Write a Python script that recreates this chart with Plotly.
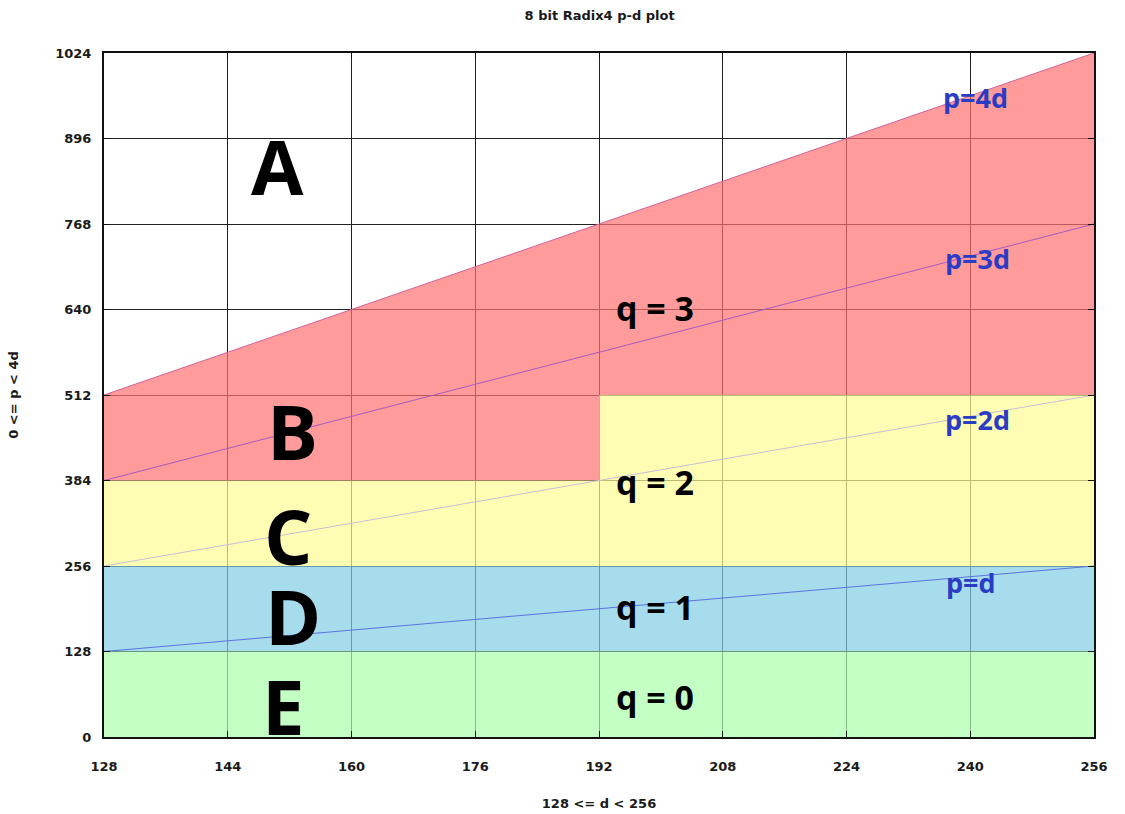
import plotly.graph_objects as go

# Axis ranges and ticks
d_ticks = [128, 144, 160, 176, 192, 208, 224, 240, 256]
p_ticks = [0, 128, 256, 384, 512, 640, 768, 896, 1024]

# Quotient-digit regions (polygon vertices in d, p)
q3_d = [128, 128, 256, 256, 192, 192, 128]
q3_p = [384, 512, 1024, 512, 512, 384, 384]
q2_d = [128, 128, 192, 192, 256, 256, 128]
q2_p = [256, 384, 384, 512, 512, 256, 256]
q1_d = [128, 128, 256, 256, 128]
q1_p = [128, 256, 256, 128, 128]
q0_d = [128, 128, 256, 256, 128]
q0_p = [0, 128, 128, 0, 0]

# Reference lines p = k*d (endpoints)
line_d = [128, 256]
line_p4 = [512, 1024]
line_p3 = [384, 768]
line_p2 = [256, 512]
line_p1 = [128, 256]

# Labels
zone_names = ["A", "B", "C", "D", "E"]
zone_d = [150.4, 152.4, 151.8, 152.4, 151.2]
zone_p = [856, 460, 302, 183, 48]

q_names = ["q = 3", "q = 2", "q = 1", "q = 0"]
q_d = [199.2, 199.2, 199.2, 199.2]
q_p = [642, 382, 195, 60]

line_names = ["p=4d", "p=3d", "p=2d", "p=d"]
line_lab_d = [240.7, 240.9, 240.9, 240.1]
line_lab_p = [958, 717, 476, 232]

fig = go.Figure()

regions = [
    (q3_d, q3_p, "rgba(255,112,112,0.7)"),
    (q2_d, q2_p, "rgba(255,252,148,0.7)"),
    (q1_d, q1_p, "rgba(128,205,228,0.7)"),
    (q0_d, q0_p, "rgba(171,255,171,0.7)"),
]
for xs, ys, col in regions:
    fig.add_trace(go.Scatter(x=xs, y=ys, fill="toself", fillcolor=col,
                             mode="lines", line=dict(width=0),
                             hoverinfo="skip", showlegend=False))

lines = [
    (line_p4, "#d0609a"),
    (line_p3, "#a45cc0"),
    (line_p2, "#c4c0d4"),
    (line_p1, "#5a74e0"),
]
for ys, col in lines:
    fig.add_trace(go.Scatter(x=line_d, y=ys, mode="lines",
                             line=dict(color=col, width=1),
                             hoverinfo="skip", showlegend=False))

big_font = dict(family="Open Sans", size=76, color="black")
for name, x, y in zip(zone_names, zone_d, zone_p):
    fig.add_annotation(x=x, y=y, text="<b>%s</b>" % name, showarrow=False,
                       font=big_font, height=62, valign="middle")

q_font = dict(family="Open Sans", size=34, color="black")
for name, x, y in zip(q_names, q_d, q_p):
    fig.add_annotation(x=x, y=y, text="<b>%s</b>" % name, showarrow=False,
                       font=q_font)

p_font = dict(family="Open Sans", size=27, color="#2b3cc4")
for name, x, y in zip(line_names, line_lab_d, line_lab_p):
    fig.add_annotation(x=x, y=y, text="<b>%s</b>" % name, showarrow=False,
                       font=p_font)

text_font = dict(family="DejaVu Sans", size=13, color="#1a1a1a", weight="bold")

axis_common = dict(
    showgrid=True, gridcolor="#222222", gridwidth=1,
    showline=True, linecolor="#111111", linewidth=2, mirror="ticks",
    ticks="inside", ticklen=6, tickcolor="#111111", tickwidth=1,
    zeroline=False, automargin=False,
    tickfont=text_font,
)

fig.update_xaxes(range=[128, 256], tickvals=d_ticks,
                 ticktext=[str(v) for v in d_ticks],
                 ticklabelstandoff=16,
                 title=dict(text="128 <= d < 256", standoff=26, font=text_font),
                 **axis_common)
fig.update_yaxes(range=[0, 1024], tickvals=p_ticks,
                 ticktext=[str(v) for v in p_ticks],
                 ticklabelstandoff=8,
                 title=dict(text="0 <= p < 4d", standoff=34, font=text_font),
                 **axis_common)

fig.update_layout(
    width=1125, height=814,
    margin=dict(l=104, r=31, t=53, b=77),
    paper_bgcolor="white", plot_bgcolor="white",
    title=dict(text="8 bit Radix4 p-d plot", x=0.533, xanchor="center",
               y=0.981, yanchor="middle", font=text_font),
    showlegend=False,
)

fig.write_html("out.html")
